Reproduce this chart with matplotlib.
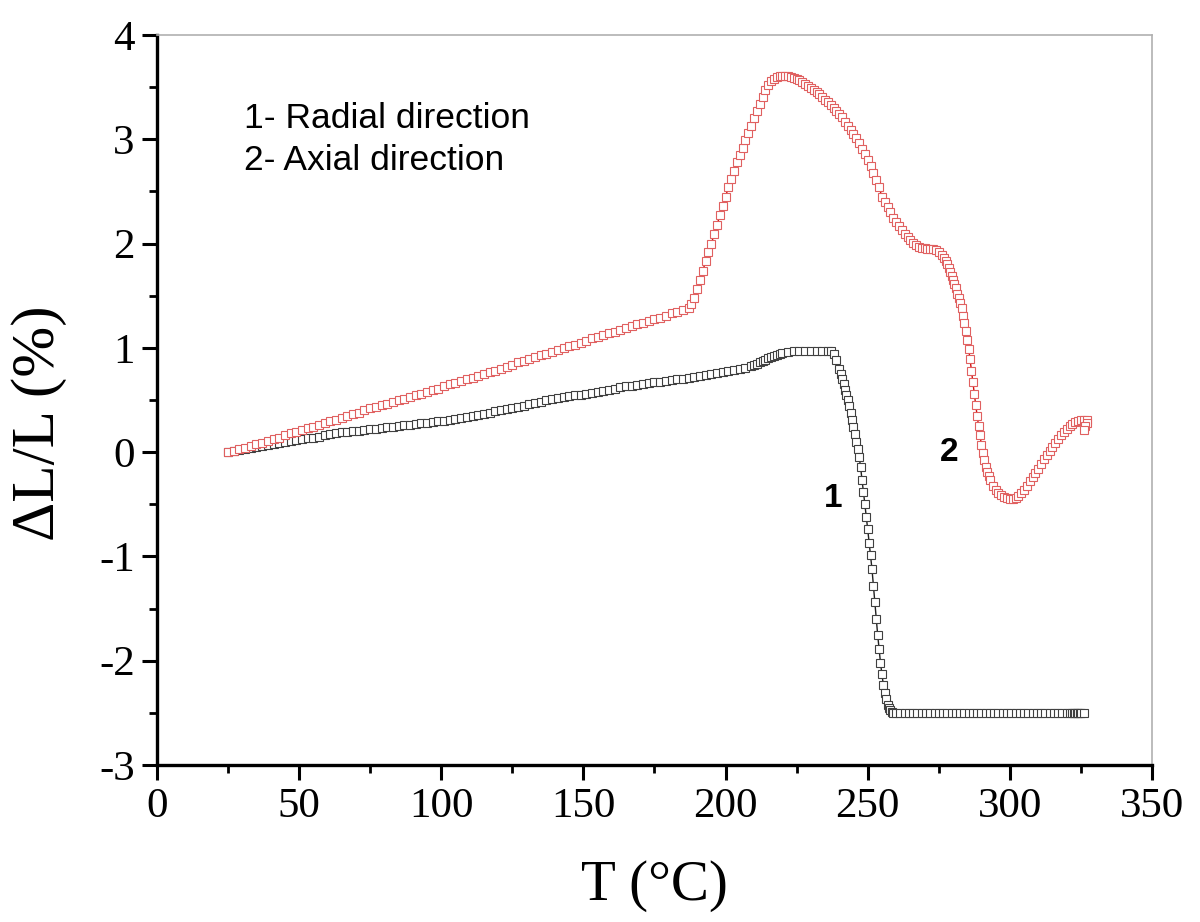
import matplotlib
matplotlib.use("Agg")
import matplotlib.pyplot as plt
from matplotlib.ticker import MultipleLocator

# ---- Data: curve 1, radial direction: (T in degC, dL/L in %) ----
radial_points = [
    (25, 0.00), (27, 0.01), (29, 0.02), (31, 0.03), (33, 0.04), (35, 0.05), (37, 0.06),
    (39, 0.07), (41, 0.08), (43, 0.09), (45, 0.10), (47, 0.11), (49, 0.12), (51, 0.13),
    (53, 0.14), (55, 0.14), (57, 0.15), (59, 0.16), (61, 0.17), (63, 0.18), (65, 0.19),
    (67, 0.19), (69, 0.20), (71, 0.20), (73, 0.21), (75, 0.22), (77, 0.22), (79, 0.23),
    (81, 0.24), (83, 0.24), (85, 0.25), (87, 0.26), (89, 0.26), (91, 0.27), (93, 0.28),
    (95, 0.28), (97, 0.29), (99, 0.30), (101, 0.30), (103, 0.31), (105, 0.32),
    (107, 0.33), (109, 0.34), (111, 0.35), (113, 0.36), (115, 0.37), (117, 0.38),
    (119, 0.39), (121, 0.40), (123, 0.41), (125, 0.42), (127, 0.43), (129, 0.44),
    (131, 0.46), (133, 0.47), (135, 0.48), (137, 0.50), (139, 0.51), (141, 0.52),
    (143, 0.53), (145, 0.54), (147, 0.55), (149, 0.55), (151, 0.56), (153, 0.57),
    (155, 0.58), (157, 0.59), (159, 0.60), (161, 0.61), (163, 0.62), (165, 0.63),
    (167, 0.63), (169, 0.64), (171, 0.65), (173, 0.66), (175, 0.67), (177, 0.67),
    (179, 0.68), (181, 0.69), (183, 0.70), (185, 0.70), (187, 0.71), (189, 0.72),
    (191, 0.73), (193, 0.74), (195, 0.75), (197, 0.76), (199, 0.77), (201, 0.78),
    (203, 0.79), (205, 0.80), (207, 0.81), (209, 0.83),
    (210, 0.84), (211, 0.85), (212, 0.86), (213, 0.87), (214, 0.88), (215, 0.90),
    (216, 0.91), (217, 0.92), (218, 0.93), (219, 0.94), (220, 0.95), (222, 0.96),
    (224, 0.97), (226, 0.97), (228, 0.97), (230, 0.97), (232, 0.97), (234, 0.97),
    (236, 0.97), (237, 0.97), (238, 0.94), (239, 0.88), (240, 0.80),
    (240.5, 0.75), (241, 0.70), (241.5, 0.65), (242, 0.60), (242.5, 0.55), (243, 0.50),
    (243.5, 0.44), (244, 0.38), (244.5, 0.31), (245, 0.24), (245.5, 0.17), (246, 0.10),
    (246.5, 0.03), (247, -0.05), (247.5, -0.14), (248, -0.27), (248.5, -0.38),
    (249, -0.50), (249.5, -0.62), (250, -0.74), (250.5, -0.87), (251, -0.99),
    (251.5, -1.12), (252, -1.28), (252.5, -1.44), (253, -1.60), (253.5, -1.75),
    (254, -1.89), (254.5, -2.02), (255, -2.13), (255.5, -2.23), (256, -2.31),
    (256.5, -2.37), (257, -2.42), (257.5, -2.45), (258, -2.47), (258.5, -2.49),
    (259, -2.50), (260, -2.50), (261.5, -2.50), (263, -2.50), (264.5, -2.50),
    (266, -2.50), (267.5, -2.50), (269, -2.50), (270.5, -2.50), (272, -2.50),
    (273.5, -2.50), (275, -2.50), (276.5, -2.50), (278, -2.50), (279.5, -2.50),
    (281, -2.50), (282.5, -2.50), (284, -2.50), (285.5, -2.50), (287, -2.50),
    (288.5, -2.50), (290, -2.50), (291.5, -2.50), (293, -2.50), (294.5, -2.50),
    (296, -2.50), (297.5, -2.50), (299, -2.50), (300.5, -2.50), (302, -2.50),
    (303.5, -2.50), (305, -2.50), (306.5, -2.50), (308, -2.50), (309.5, -2.50),
    (311, -2.50), (312.5, -2.50), (314, -2.50), (315.5, -2.50), (317, -2.50),
    (318.5, -2.50), (320, -2.50), (321, -2.50), (322, -2.50), (322.5, -2.50),
    (323, -2.50), (323.5, -2.50), (324, -2.50), (324.5, -2.50), (325, -2.50),
    (326, -2.50),
]

# ---- Data: curve 2, axial direction ----
axial_points = [
    (25, 0.00), (27, 0.01), (29, 0.03), (31, 0.04), (33, 0.06), (35, 0.08), (37, 0.09),
    (39, 0.11), (41, 0.13), (43, 0.14), (45, 0.16), (47, 0.18), (49, 0.19), (51, 0.21),
    (53, 0.23), (55, 0.24), (57, 0.26), (59, 0.28), (61, 0.30), (63, 0.31), (65, 0.33),
    (67, 0.35), (69, 0.37), (71, 0.38), (73, 0.40), (75, 0.42), (77, 0.43), (79, 0.45),
    (81, 0.46), (83, 0.48), (85, 0.50), (87, 0.51), (89, 0.53), (91, 0.55), (93, 0.56),
    (95, 0.58), (97, 0.60), (99, 0.61), (101, 0.63), (103, 0.65), (105, 0.66),
    (107, 0.68), (109, 0.70), (111, 0.71), (113, 0.73), (115, 0.75), (117, 0.77),
    (119, 0.78), (121, 0.80), (123, 0.82), (125, 0.84), (127, 0.86), (129, 0.87),
    (131, 0.89), (133, 0.91), (135, 0.93), (137, 0.94), (139, 0.96), (141, 0.98),
    (143, 1.00), (145, 1.02), (147, 1.03), (149, 1.05), (151, 1.07), (153, 1.09),
    (155, 1.10), (157, 1.12), (159, 1.14), (161, 1.15), (163, 1.17), (165, 1.19),
    (167, 1.21), (169, 1.23), (171, 1.24), (173, 1.26), (175, 1.28), (177, 1.29),
    (179, 1.31), (181, 1.33), (183, 1.34), (185, 1.36), (187, 1.38),
    (188, 1.42), (189, 1.48), (190, 1.56), (191, 1.65), (192, 1.74), (193, 1.83),
    (194, 1.92), (195, 2.00), (196, 2.09), (197, 2.18), (198, 2.27), (199, 2.36),
    (200, 2.45), (201, 2.54), (202, 2.62), (203, 2.70), (204, 2.78), (205, 2.85),
    (206, 2.92), (207, 2.99), (208, 3.06), (209, 3.13), (210, 3.20), (211, 3.27),
    (212, 3.34), (213, 3.41), (214, 3.47), (215, 3.52), (216, 3.56), (217, 3.58),
    (218, 3.60), (219, 3.61), (220, 3.61), (221, 3.61), (222, 3.61), (223, 3.60),
    (224, 3.59), (225, 3.58), (226, 3.57), (227, 3.55), (228, 3.53), (229, 3.51),
    (230, 3.49), (231, 3.47), (232, 3.45), (233, 3.43), (234, 3.41), (235, 3.38),
    (236, 3.36), (237, 3.33), (238, 3.30), (239, 3.27), (240, 3.24), (241, 3.21),
    (242, 3.17), (243, 3.13), (244, 3.09), (245, 3.05), (246, 3.01), (247, 2.96),
    (248, 2.91), (249, 2.86), (250, 2.80), (251, 2.74), (252, 2.68), (253, 2.61),
    (254, 2.54), (255, 2.45), (256, 2.40), (257, 2.35), (258, 2.30), (259, 2.25),
    (260, 2.21), (261, 2.17), (262, 2.13), (263, 2.09), (264, 2.06), (265, 2.03),
    (266, 2.01), (267, 1.99), (268, 1.97), (269, 1.96), (270, 1.96), (271, 1.95),
    (272, 1.95), (273, 1.95), (274, 1.94), (275, 1.92), (276, 1.89),
    (277, 1.86), (277.5, 1.83), (278, 1.80), (278.5, 1.77), (279, 1.73), (279.5, 1.69),
    (280, 1.65), (280.5, 1.61), (281, 1.57), (281.5, 1.52), (282, 1.48), (282.5, 1.43),
    (283, 1.38), (283.5, 1.31), (284, 1.24), (284.5, 1.16), (285, 1.08), (285.5, 0.99),
    (286, 0.89), (286.5, 0.78), (287, 0.67), (287.5, 0.56), (288, 0.45), (288.5, 0.35),
    (289, 0.25), (289.5, 0.16), (290, 0.07), (290.5, -0.01), (291, -0.08),
    (291.5, -0.14), (292, -0.19), (292.5, -0.23), (293, -0.27),
    (294, -0.32), (295, -0.36), (296, -0.39), (297, -0.41), (298, -0.43), (299, -0.44),
    (300, -0.45), (301, -0.45), (302, -0.44), (303, -0.42), (304, -0.39), (305, -0.36),
    (306, -0.32), (307, -0.28), (308, -0.24), (309, -0.20), (310, -0.16), (311, -0.11),
    (312, -0.07), (313, -0.03), (314, 0.01), (315, 0.05), (316, 0.09), (317, 0.13),
    (318, 0.16), (319, 0.19), (320, 0.22), (321, 0.25), (322, 0.27), (323, 0.29),
    (324, 0.30), (325, 0.31), (326, 0.31), (327, 0.31), (327, 0.28), (326.5, 0.25),
    (326, 0.21),
]

radial_T = [p[0] for p in radial_points]
radial_dL = [p[1] for p in radial_points]
axial_T = [p[0] for p in axial_points]
axial_dL = [p[1] for p in axial_points]

x_ticks = [0, 50, 100, 150, 200, 250, 300, 350]
y_ticks = [-3, -2, -1, 0, 1, 2, 3, 4]
note_lines = ["1- Radial direction", "2- Axial direction"]

fig = plt.figure(figsize=(12, 9.22), dpi=100)
ax = fig.add_axes([0.1308, 0.1703, 0.8292, 0.7917])

ax.plot(radial_T, radial_dL, color="#202020", lw=1.0, marker="s", markersize=5.8,
        markerfacecolor="white", markeredgecolor="#404040", markeredgewidth=0.8, zorder=3)
ax.plot(axial_T, axial_dL, color="#d41010", lw=1.0, marker="s", markersize=5.8,
        markerfacecolor="white", markeredgecolor="#e06060", markeredgewidth=0.8, zorder=3)

ax.set_xlim(0, 350)
ax.set_ylim(-3, 4)
ax.set_xticks(x_ticks)
ax.set_yticks(y_ticks)
ax.xaxis.set_minor_locator(MultipleLocator(25))
ax.yaxis.set_minor_locator(MultipleLocator(0.5))

serif = ["Liberation Serif", "DejaVu Serif"]
ax.set_xticklabels([str(v) for v in x_ticks], family=serif, fontsize=31)
ax.set_yticklabels([str(v) for v in y_ticks], family=serif, fontsize=31)
ax.tick_params(which="major", direction="out", length=11, width=2.2, pad=5,
               top=False, right=False)
ax.tick_params(which="minor", direction="out", length=6, width=2.0,
               top=False, right=False)

for s in ("left", "bottom"):
    ax.spines[s].set_linewidth(2.4)
    ax.spines[s].set_color("black")
for s in ("top", "right"):
    ax.spines[s].set_linewidth(1.2)
    ax.spines[s].set_color("#b0b0b0")
    ax.spines[s].set_linestyle((0, (1, 1)))

ax.set_xlabel("T (°C)", family=serif, fontsize=41, labelpad=25)
ax.set_ylabel("ΔL/L (%)", family=serif, fontsize=44)
ax.yaxis.set_label_coords(-0.090, 0.468)

sans = ["Liberation Sans", "DejaVu Sans"]
ax.text(30.5, 3.2, note_lines[0], family=sans, fontsize=25.5, va="center", ha="left")
ax.text(30.5, 2.8, note_lines[1], family=sans, fontsize=25.5, va="center", ha="left")
ax.text(238.0, -0.44, "1", family=sans, fontsize=24, fontweight="bold",
        va="center", ha="center")
ax.text(278.5, 0.0, "2", family=sans, fontsize=24, fontweight="bold",
        va="center", ha="center")

fig.savefig("out.png", dpi=100)
